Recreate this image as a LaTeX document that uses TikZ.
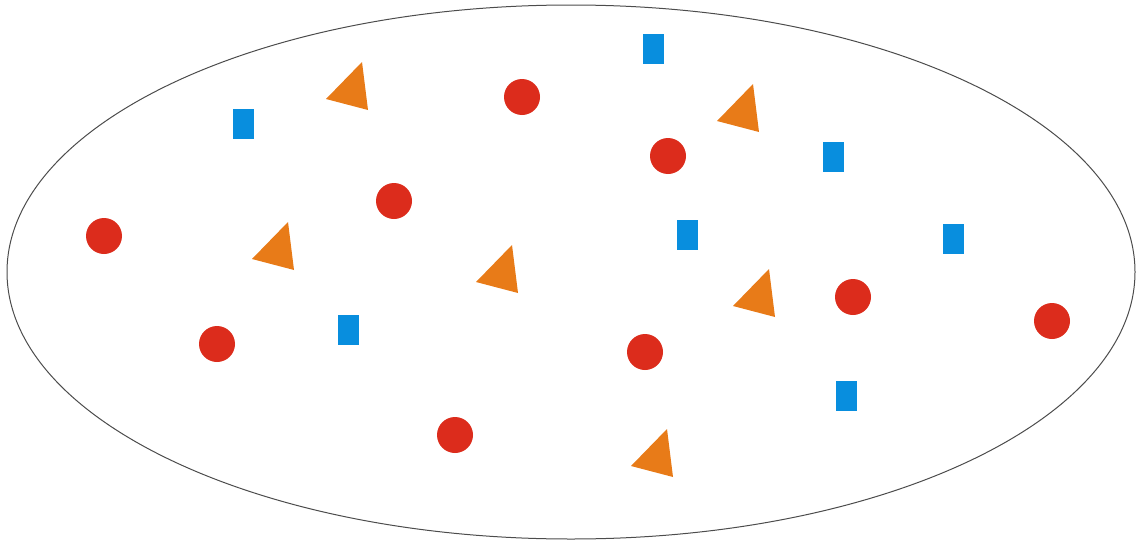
\documentclass[tikz,border=0pt]{standalone}
\usepackage{xcolor}
\usepackage{tikz}
\usetikzlibrary{shapes.geometric}

\definecolor{dotred}{RGB}{220,44,28}
\definecolor{triorange}{RGB}{232,123,24}
\definecolor{boxblue}{RGB}{8,142,222}

\begin{document}
\begin{tikzpicture}[
  x=1pt, y=-1pt,
  field/.style={draw=black!70, line width=1pt, ellipse,
    minimum width=1128pt, minimum height=534pt, inner sep=0pt},
  dot/.style={circle, fill=dotred, minimum size=36pt, inner sep=0pt},
  tile/.style={rectangle, fill=boxblue, minimum width=21pt,
    minimum height=30pt, inner sep=0pt},
  wedge/.style={fill=triorange},
]
\useasboundingbox (0,0) rectangle (1136,541);

\node[field] (set) at (571,272) {};

% red circles
\foreach \x/\y [count=\i] in {522/97,668/156,394/201,104/236,217/344,
    645/352,853/297,1052/321,455/435}
  \node[dot] (c\i) at (\x,\y) {};

% blue rectangles
\foreach \x/\y [count=\i] in {653/49,243/124,833/157,687/235,953/239,
    348/330,846/396}
  \node[tile] (r\i) at (\x,\y) {};

% orange triangles, anchored at the top corner
\foreach \x/\y [count=\i] in {362/62,753/84,288/222,512/245,769/269,
    667/429}
{
  \coordinate (t\i) at (\x,\y);
  \fill[wedge] (t\i) -- ++(-36,37) -- ++(42,11) -- cycle;
}

\end{tikzpicture}
\end{document}
